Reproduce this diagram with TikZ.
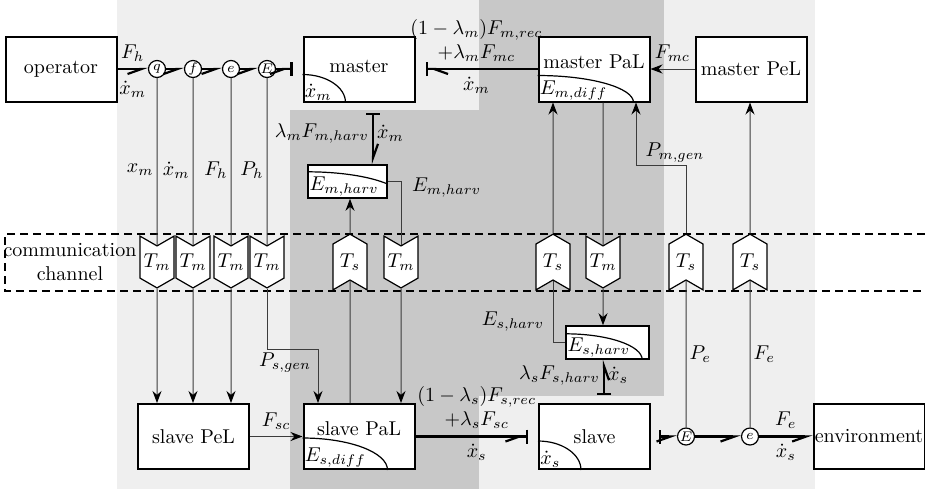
\documentclass[tikz,border=0pt]{standalone}
\usepackage{amsmath}
\usepackage{tikz}
\usetikzlibrary{arrows.meta,positioning,calc,shapes.symbols}
\definecolor{bglight}{RGB}{239,239,239}
\definecolor{bgdark}{RGB}{200,200,200}
\definecolor{sigline}{RGB}{60,60,60}

\begin{document}
\begin{tikzpicture}[x=0.5pt, y=-0.5pt,
  blk/.style={draw, line width=1pt, fill=white, minimum width=55.5pt, minimum height=32.5pt, inner sep=0pt},
  store/.style={draw, line width=0.8pt, fill=white, minimum height=16.5pt, inner sep=0pt},
  jn/.style={circle, draw, line width=0.6pt, fill=white, minimum size=8.5pt, inner sep=0pt, font=\scriptsize},
  tdown/.style={signal, signal to=south, signal from=north, draw, line width=0.6pt, fill=white, minimum width=17pt, minimum height=25pt, inner sep=1pt, signal pointer angle=120},
  tup/.style={signal, signal to=north, signal from=south, draw, line width=0.6pt, fill=white, minimum width=17pt, minimum height=25pt, inner sep=1pt, signal pointer angle=120},
  bond/.style={line width=1.1pt, -{Straight Barb[harpoon,swap,length=7pt,width=5pt]}},
  bondc/.style={line width=1.1pt, -{Straight Barb[harpoon,swap,length=7pt,width=5pt]Bar[width=7pt]}, shorten >=5pt},
  bondcr/.style={line width=1.1pt, -{Straight Barb[harpoon,length=7pt,width=5pt]Bar[width=7pt]}, shorten >=5pt},
  bonds/.style={line width=1.1pt, {Bar[width=7pt]}-{Straight Barb[harpoon,swap,length=7pt,width=5pt]}, shorten <=4pt},
  bondsr/.style={line width=1.1pt, {Bar[width=7pt]}-{Straight Barb[harpoon,length=7pt,width=5pt]}, shorten <=5pt},
  sig/.style={line width=0.5pt, draw=sigline},
  sigar/.style={sig, -{Stealth[length=6pt,width=4.5pt,color=black]}},
  lbl/.style={inner sep=1.5pt},
  arcln/.style={line width=0.6pt},
  chan/.style={line width=0.6pt, dash pattern=on 4pt off 2.5pt},
]
\useasboundingbox (0,0) rectangle (925,489);

\fill[bglight] (117,0) rectangle (815,489);
\fill[bgdark] (479,0) rectangle (664,396);
\fill[bgdark] (290,110) rectangle (479,489);

\draw[chan] (925,234) -- (5,234) -- (5,291) -- (925,291);
\node[align=center] (comm) at (70,262) {communication\\channel};

\node[blk] (op) at (61,69) {operator};
\node[blk, text depth=3pt] (master) at (359,69) {master};
\node[blk, text depth=7pt] (mpal) at (594,69) {master PaL};
\node[blk] (mpel) at (751,69) {master PeL};
\node[blk] (spel) at (193.5,436.5) {slave PeL};
\node[blk, text depth=8pt] (spal) at (359,436.5) {slave PaL};
\node[blk] (slave) at (594.5,436.5) {slave};
\node[blk] (env) at (869,436.5) {environment};
\node[store, minimum width=39.5pt] (emh) at (347.5,181.5) {};
\node[store, minimum width=41.5pt] (esh) at (607.5,342.5) {};

\draw[arcln] (master.south west) ++(0,-28) arc[start angle=90, end angle=0, x radius=21.5pt, y radius=14pt];
\node[anchor=south west, inner sep=1pt] at (master.south west) {$\dot x_m$};
\draw[arcln] (mpal.south west) ++(0,-27) arc[start angle=90, end angle=0, x radius=48pt, y radius=13.5pt];
\node[anchor=south west, inner sep=1pt] at (mpal.south west) {$E_{m,diff}$};
\begin{scope}
  \clip (emh.south west) rectangle (emh.north east);
  \draw[arcln] (emh.south west) ++(0,-27) arc[start angle=90, end angle=0, x radius=48pt, y radius=13.5pt];
\end{scope}
\node[anchor=south west, inner sep=1pt] at (emh.south west) {$E_{m,harv}$};
\draw[arcln] (esh.south west) ++(0,-26) arc[start angle=90, end angle=0, x radius=38.5pt, y radius=13pt];
\node[anchor=south west, inner sep=1pt] at (esh.south west) {$E_{s,harv}$};
\draw[arcln] (spal.south west) ++(0,-32) arc[start angle=90, end angle=0, x radius=42.5pt, y radius=16pt];
\node[anchor=south west, inner sep=1pt] at (spal.south west) {$E_{s,diff}$};
\draw[arcln] (slave.south west) ++(0,-29) arc[start angle=90, end angle=0, x radius=21.5pt, y radius=14.5pt];
\node[anchor=south west, inner sep=1pt] at (slave.south west) {$\dot x_s$};

\node[jn] (q) at (157,69) {$q$};
\node[jn] (f) at (193,69) {$f$};
\node[jn] (e) at (231,69) {$e$};
\node[jn] (E) at (267,69) {$E$};
\node[jn] (cE) at (686,436.5) {$E$};
\node[jn] (ce) at (750,436.5) {$e$};

\node[tdown] (tq) at (157,262) {$T_m$};
\node[tdown] (tf) at (193,262) {$T_m$};
\node[tdown] (te) at (231,262) {$T_m$};
\node[tdown] (tE) at (267,262) {$T_m$};
\node[tup] (ts1) at (350,262) {$T_s$};
\node[tdown] (tm2) at (401,262) {$T_m$};
\node[tup] (ts2) at (553,262) {$T_s$};
\node[tdown] (tm3) at (603,262) {$T_m$};
\node[tup] (ts3) at (686,262) {$T_s$};
\node[tup] (ts4) at (750,262) {$T_s$};

\coordinate (mh) at (373,0);
\coordinate (sh) at (604,0);
\coordinate (psg) at (318,349);
\coordinate (pmg) at (636,165);

\draw[bond] (op) -- node[above]{$F_h$} node[below, yshift=-2pt]{$\dot x_m$} (q);
\draw[bond] (q) -- (f);
\draw[bond] (f) -- (e);
\draw[bond] (e) -- (E);
\draw[bondc] (E) -- (master);
\draw[bondcr] (mpal) -- node[above, align=center]{$(1-\lambda_m)F_{m,rec}$\\$+\lambda_m F_{mc}$} node[below]{$\dot x_m$} (master);
\draw[bondsr] (master.south -| mh) -- node[lbl, left]{$\lambda_m F_{m,harv}$} node[lbl, right]{$\dot x_m$} (emh.north -| mh);

\draw[bondc] (spal) -- node[above, align=center]{$(1-\lambda_s)F_{s,rec}$\\$+\lambda_s F_{sc}$} node[below]{$\dot x_s$} (slave);
\draw[bonds] (slave) -- (cE);
\draw[bond] (cE) -- (ce);
\draw[bond] (ce) -- node[above]{$F_e$} node[below]{$\dot x_s$} (env);
\draw[bonds] (slave.north -| sh) -- node[lbl, left, pos=0.64]{$\lambda_s F_{s,harv}$} node[lbl, right, pos=0.64]{$\dot x_s$} (esh.south -| sh);

\draw[sig] (q) -- node[lbl, left, pos=0.55]{$x_m$} (tq);
\draw[sigar] (tq) -- (tq |- spel.north);
\draw[sig] (f) -- node[lbl, left, pos=0.55]{$\dot x_m$} (tf);
\draw[sigar] (tf) -- (tf |- spel.north);
\draw[sig] (e) -- node[lbl, left, pos=0.55]{$F_h$} (te);
\draw[sigar] (te) -- (te |- spel.north);
\draw[sig] (E) -- node[lbl, left, pos=0.55]{$P_h$} (tE);
\draw[sigar] (tE) |- (psg) -- (psg |- spal.north);
\node at (285,363) {$P_{s,gen}$};

\draw[sig] (spal.north -| ts1) -- (ts1);
\draw[sigar] (ts1) -- (ts1 |- emh.south);
\draw[sig] (emh.east) -| (tm2);
\draw[sigar] (tm2) -- (tm2 |- spal.north);
\node[right] at (405,188) {$E_{m,harv}$};

\draw[sig] (esh.west) -| (ts2);
\draw[sigar] (ts2) -- (ts2 |- mpal.south);
\node at (513,322) {$E_{s,harv}$};
\draw[sig] (mpal.south -| tm3) -- (tm3);
\draw[sigar] (tm3) -- (tm3 |- esh.north);

\draw[sig] (cE) -- node[lbl, right]{$P_e$} (ts3);
\draw[sigar] (ts3) |- (pmg) -- (pmg |- mpal.south);
\node at (675,153) {$P_{m,gen}$};
\draw[sig] (ce) -- node[lbl, right]{$F_e$} (ts4);
\draw[sigar] (ts4) -- (ts4 |- mpel.south);

\draw[sigar] (mpel) -- node[above]{$F_{mc}$} (mpal);
\draw[sigar] (spel) -- node[above]{$F_{sc}$} (spal);
\end{tikzpicture}
\end{document}
